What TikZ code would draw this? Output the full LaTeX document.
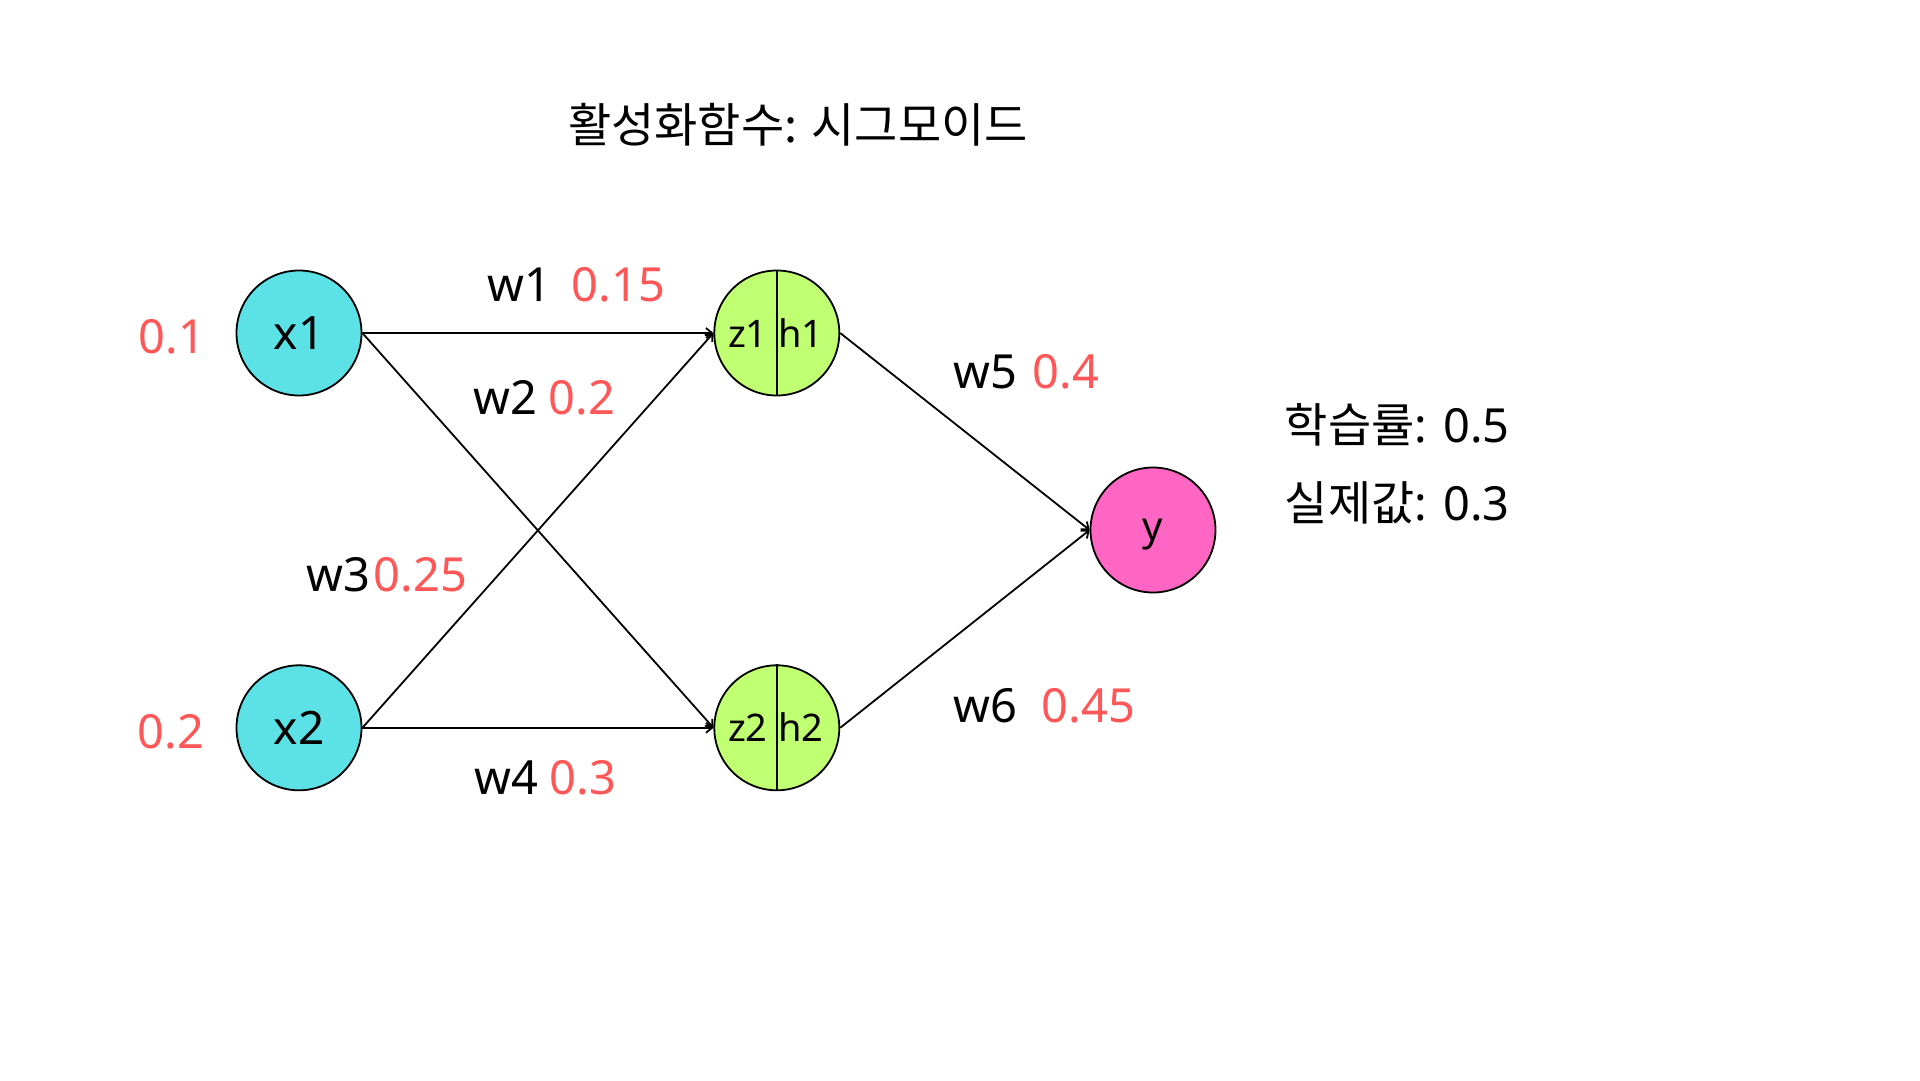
\documentclass[tikz,border=0pt]{standalone}
\usepackage{fontspec}
\setmainfont{Noto Sans}
\newfontfamily\kofont{Noto Sans CJK KR}
\usepackage{tikz}
\usetikzlibrary{positioning, arrows.meta}
\definecolor{incyan}{HTML}{5CE1E6}
\definecolor{hidgreen}{HTML}{C1FF72}
\definecolor{outpink}{HTML}{FF66C4}
\definecolor{wred}{HTML}{FF5757}
\tikzset{%
  neuron/.style={draw, circle, line width=1.8pt, minimum size=125pt, inner sep=0pt,
    font=\fontsize{46}{55}\selectfont, text height=33pt, text depth=0pt},
  half/.style={inner sep=0pt, anchor=base, font=\fontsize{38}{46}\selectfont},
  lbl/.style={inner sep=0pt, anchor=base west, font=\fontsize{47}{56}\selectfont}
}

\begin{document}
\begin{tikzpicture}[x=1pt, y=1pt, line width=1.8pt, >={Straight Barb[length=6pt, width=10pt]}]

\useasboundingbox[fill=white] (0,0) rectangle (1920,-1080);

\node[lbl, anchor=base] (title) at (798,-142) {\kofont 활성화함수: 시그모이드};

\node[neuron, fill=incyan] (x1) at (299,-333) {x1};
\node[neuron, fill=incyan, below=268pt of x1] (x2) {x2};
\node[neuron, fill=hidgreen, right=351pt of x1] (hid1) {};
\node[neuron, fill=hidgreen, right=351pt of x2] (hid2) {};
\node[neuron, fill=outpink, font=\fontsize{40}{48}\selectfont, text height=20pt] (y) at (1153,-530) {y};

\draw (hid1.north) -- (hid1.south);
\draw (hid2.north) -- (hid2.south);
\node[half] (z1) at ([xshift=-29pt, yshift=-14pt]hid1.center) {z1};
\node[half] (h1) at ([xshift=24pt, yshift=-14pt]hid1.center) {h1};
\node[half] (z2) at ([xshift=-29pt, yshift=-14pt]hid2.center) {z2};
\node[half] (h2) at ([xshift=24pt, yshift=-14pt]hid2.center) {h2};

\draw[->] (x1.east) -- (hid1.west);
\draw[->] (x1.east) -- (hid2.west);
\draw[->] (x2.east) -- (hid1.west);
\draw[->] (x2.east) -- (hid2.west);
\draw[->] (hid1.east) -- (y.west);
\draw[->] (hid2.east) -- (y.west);

% input values and weights
\node[lbl, text=wred] (v1) at (138,-353) {0.1};
\node[lbl, text=wred] (v2) at (137,-748) {0.2};
\node[lbl] (w1) at (487,-301) {w1\hspace{20pt}\textcolor{wred}{0.15}};
\node[lbl] (w2) at (473,-414) {w2\hspace{11pt}\textcolor{wred}{0.2}};
\node[lbl] (w3) at (306,-591) {w3\hspace{3pt}\textcolor{wred}{0.25}};
\node[lbl] (w4) at (474,-794) {w4\hspace{11pt}\textcolor{wred}{0.3}};
\node[lbl] (w5) at (953,-388) {w5\hspace{15pt}\textcolor{wred}{0.4}};
\node[lbl] (w6) at (953,-722) {w6\hspace{24pt}\textcolor{wred}{0.45}};

\node[lbl] (rate) at (1284,-442) {{\kofont 학습률}: 0.5};
\node[lbl] (target) at (1284,-520) {{\kofont 실제값}: 0.3};

\end{tikzpicture}
\end{document}
